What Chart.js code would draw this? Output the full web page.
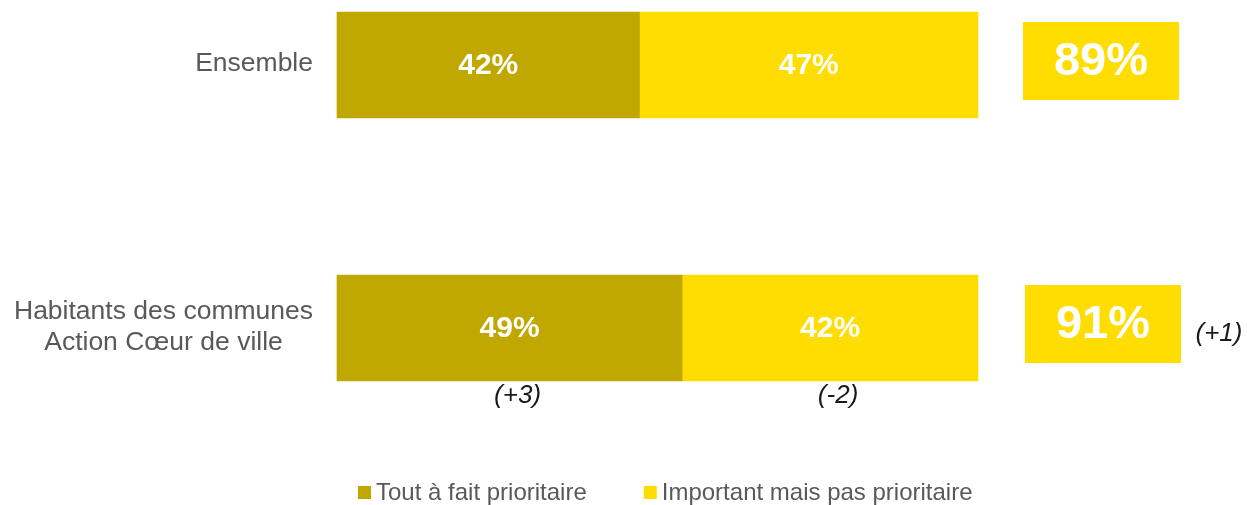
<!DOCTYPE html>
<html>
<head>
<meta charset="utf-8">
<script src="https://cdn.jsdelivr.net/npm/chart.js@4/dist/chart.umd.min.js"></script>
<style>
    html, body { margin: 0; padding: 0; background: #fff; }
    #wrap { width: 1247px; height: 505px; position: relative; }
</style>
</head>
<body>
<div id="wrap"><canvas id="prioriteChart"></canvas></div>
<script>
const categories = [['Ensemble'], ['Habitants des communes', 'Action Cœur de ville']];
const toutAFait = [42, 49];
const important = [47, 42];
const toutAFaitEvol = [null, '+3'];
const importantEvol = [null, '-2'];
const totalEvol = [null, '+1'];
const seriesNames = ['Tout à fait prioritaire', 'Important mais pas prioritaire'];
const colors = ['#C0A800', '#FFDD00'];

const FONT = '"Liberation Sans", Arial, sans-serif';

const totals = toutAFait.map((v, i) => v + important[i]);
// bars are drawn as a share of the total so both rows fill the same width
const share = arr => arr.map((v, i) => v / totals[i] * 100);

const annotations = {
    id: 'annotations',
    afterDatasetsDraw(chart) {
        const ctx = chart.ctx;
        const area = chart.chartArea;
        const yScale = chart.scales.y;
        ctx.save();
        ctx.textAlign = 'center';
        ctx.textBaseline = 'middle';

        // category labels (lines centred on each other, block right-aligned)
        ctx.font = '26.5px ' + FONT;
        ctx.fillStyle = '#595959';
        categories.forEach((lines, i) => {
            const y = yScale.getPixelForValue(i);
            const widest = Math.max(...lines.map(l => ctx.measureText(l).width));
            const cx = area.left - 24 - widest / 2;
            lines.forEach((l, j) => {
                ctx.fillText(l, cx, y + (j - (lines.length - 1) / 2) * 31 - 1);
            });
        });

        // values inside the bars + changes underneath
        const evols = [toutAFaitEvol, importantEvol];
        chart.data.datasets.forEach((ds, d) => {
            chart.getDatasetMeta(d).data.forEach((bar, i) => {
                const cx = (bar.base + bar.x) / 2;
                ctx.font = 'bold 30px ' + FONT;
                ctx.fillStyle = '#fff';
                ctx.fillText(ds.raw[i] + '%', cx, bar.y + 1);
                if (evols[d][i]) {
                    ctx.font = 'italic 26px ' + FONT;
                    ctx.fillStyle = '#1a1a1a';
                    ctx.fillText('(' + evols[d][i] + ')', cx + 8, bar.y + bar.height / 2 + 15);
                }
            });
        });

        // total boxes on the right
        chart.getDatasetMeta(1).data.forEach((bar, i) => {
            const bx = area.right + 45 + i * 2;
            const by = bar.y - 43;
            ctx.fillStyle = colors[1];
            ctx.fillRect(bx, by, 156, 78);
            ctx.font = 'bold 47px ' + FONT;
            ctx.fillStyle = '#fff';
            ctx.fillText(totals[i] + '%', bx + 78, by + 40);
            if (totalEvol[i]) {
                ctx.font = 'italic 26px ' + FONT;
                ctx.fillStyle = '#1a1a1a';
                ctx.fillText('(' + totalEvol[i] + ')', bx + 194, bar.y + 6);
            }
        });

        // legend
        let lx = area.left + 21;
        const ly = 492;
        ctx.textAlign = 'left';
        ctx.font = '24px ' + FONT;
        chart.data.datasets.forEach(ds => {
            ctx.fillStyle = ds.backgroundColor;
            ctx.fillRect(lx, ly - 6, 13, 13);
            lx += 18;
            ctx.fillStyle = '#595959';
            ctx.fillText(ds.label, lx, ly + 1);
            lx += ctx.measureText(ds.label).width + 57;
        });
        ctx.restore();
    }
};

new Chart(document.getElementById('prioriteChart'), {
    type: 'bar',
    data: {
        labels: categories,
        datasets: [
            {
                label: seriesNames[0],
                data: share(toutAFait),
                raw: toutAFait,
                backgroundColor: colors[0],
                barThickness: 106,
                clip: false
            },
            {
                label: seriesNames[1],
                data: share(important),
                raw: important,
                backgroundColor: colors[1],
                barThickness: 106,
                clip: false
            }
        ]
    },
    options: {
        indexAxis: 'y',
        responsive: true,
        maintainAspectRatio: false,
        animation: false,
        layout: { padding: { top: 65, right: 269, bottom: 177, left: 0 } },
        plugins: {
            legend: { display: false },
            tooltip: { enabled: false }
        },
        scales: {
            x: { stacked: true, min: 0, max: 100, display: false },
            y: {
                stacked: true,
                offset: false,
                grid: { display: false },
                border: { display: false },
                ticks: { display: false },
                afterFit: s => { s.width = 337; }
            }
        }
    },
    plugins: [annotations]
});
</script>
</body>
</html>
